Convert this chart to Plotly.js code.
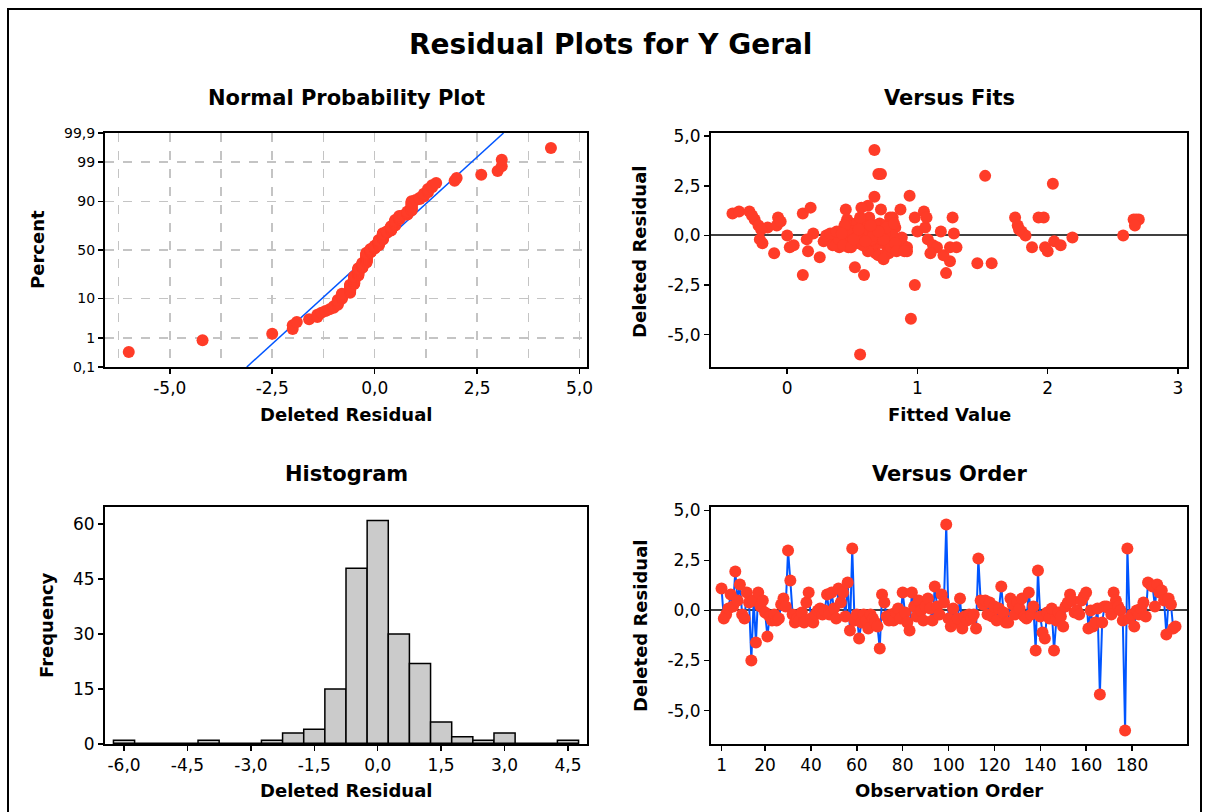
<!DOCTYPE html>
<html>
<head>
<meta charset="utf-8">
<script src="https://cdn.plot.ly/plotly-3.0.1.min.js"></script>
<style>html,body{margin:0;padding:0;background:#fff}#chart{width:1210px;height:812px}</style>
</head>
<body>
<div id="chart"></div>
<script>
// ---------------- DATA ----------------
// Deleted residuals, in observation order (1..199)
const residuals = [
 1.1,-0.4,-0.2,0.1,0.8,0.2,1.95,0.5,1.3,-0.2,
 -0.4,0.9,0.4,-2.5,0.5,-1.6,0.9,0.2,0.5,-0.1,
 -1.3,-0.3,-0.5,-0.2,-0.5,-0.4,0.3,0.6,0.2,3.0,
 1.5,-0.2,-0.6,-0.4,-0.5,-0.1,-0.6,0.4,0.9,-0.4,
 -0.6,-0.2,0.0,0.1,-0.2,0.0,0.8,-0.2,0.9,0.1,
 -0.4,1.1,0.4,0.9,-0.3,1.4,-1.0,3.1,-0.5,-0.2,
 -1.4,-0.6,-0.2,-0.5,-0.9,-0.2,-0.4,-0.6,-0.8,-1.9,
 0.8,0.4,-0.3,-0.5,-0.2,-0.5,-0.1,0.1,-0.4,0.9,
 -0.1,-0.6,-1.0,0.9,0.2,-0.3,0.5,0.0,-0.5,0.2,
 0.6,0.1,-0.5,1.2,0.2,-0.2,0.8,0.4,4.3,-0.4,
 -0.8,0.1,-0.6,-0.4,0.6,-0.9,-0.3,-0.5,-0.2,-0.4,
 -0.2,-0.9,2.6,0.5,0.3,0.5,-0.2,0.4,-0.3,0.2,
 -0.5,0.1,1.2,-0.1,-0.6,-0.6,0.6,0.3,-0.2,0.4,
 0.1,0.6,-0.3,-0.4,0.9,-0.2,0.2,-2.0,2.0,-0.3,
 -1.1,-1.4,-0.1,-0.4,0.1,-2.0,-0.5,-0.1,-0.3,-0.8,
 0.2,0.4,0.8,0.5,-0.1,0.0,-0.2,0.5,0.7,0.9,
 -0.9,0.0,-0.8,-0.6,0.1,-4.2,-0.6,0.2,0.2,0.1,
 -0.2,0.9,0.5,0.2,0.0,-0.5,-6.0,3.1,-0.4,-0.2,
 -0.8,0.0,-0.2,0.1,0.4,-0.3,1.4,1.3,1.2,0.2,
 1.3,0.9,1.0,0.5,-1.2,0.6,0.3,-0.9,-0.8
];
// Fitted values, same order
const fitted = [
 -0.42,-0.19,-0.21,0.20,-0.25,1.00,0.67,-0.22,0.72,1.08,
 0.48,-0.07,-0.15,0.98,-0.08,0.52,0.98,1.18,0.55,0.61,
 1.25,0.28,0.05,0.15,1.12,0.38,-0.20,0.58,1.80,1.52,
 0.62,0.43,0.02,0.36,0.66,0.71,0.47,1.06,0.79,0.53,
 0.40,0.64,0.00,1.28,0.57,0.30,0.46,0.69,0.81,0.39,
 0.74,0.12,0.51,0.63,0.82,0.18,1.20,0.70,0.77,0.45,
 1.46,1.15,0.68,0.35,0.68,0.73,0.60,1.25,0.16,1.22,
 2.70,0.44,0.59,0.78,0.50,0.86,0.41,0.65,0.70,1.27,
 0.55,1.30,0.70,1.75,0.62,0.54,1.77,1.83,0.66,0.75,
 0.49,0.33,0.89,-0.37,0.72,0.42,2.68,0.56,0.67,0.80,
 2.00,0.58,1.88,0.47,0.71,1.10,0.63,0.37,0.76,0.52,
 0.84,0.76,2.04,0.60,1.78,0.74,0.48,0.83,2.05,0.69,
 2.10,0.57,-0.29,2.19,1.98,0.92,0.53,0.66,0.40,0.78,
 0.61,0.45,0.85,0.67,1.93,0.73,0.50,0.12,0.94,0.64,
 0.25,1.57,0.56,0.79,0.70,0.59,0.43,0.88,0.62,0.62,
 0.46,0.77,2.66,0.68,0.54,0.81,0.72,0.44,-0.05,1.97,
 0.78,0.59,0.92,0.49,0.71,0.95,0.80,0.63,0.38,0.75,
 0.65,0.56,2.67,0.69,2.58,0.58,0.56,0.72,0.83,0.51,
 0.84,0.66,0.74,0.42,0.76,0.60,0.57,0.87,1.05,0.70,
 0.45,1.07,-0.27,0.64,0.74,0.82,0.55,-0.10,0.90
];
// Tick labels
const residTickVals = [5, 2.5, 0, -2.5, -5];
const residTickText = ["5,0", "2,5", "0,0", "-2,5", "-5,0"];
const npXTickVals = [-5, -2.5, 0, 2.5, 5];
const npXTickText = ["-5,0", "-2,5", "0,0", "2,5", "5,0"];
const npPercentVals = [0.1, 1, 10, 50, 90, 99, 99.9];
const npPercentText = ["0,1", "1", "10", "50", "90", "99", "99,9"];
const histXTickVals = [-6, -4.5, -3, -1.5, 0, 1.5, 3, 4.5];
const histXTickText = ["-6,0", "-4,5", "-3,0", "-1,5", "0,0", "1,5", "3,0", "4,5"];
const histYTickVals = [0, 15, 30, 45, 60];
const fitsXTickVals = [0, 1, 2, 3];
const orderXTickVals = [1, 20, 40, 60, 80, 100, 120, 140, 160, 180];

// ---------------- HELPERS ----------------
function invNorm(p){
 const a=[-3.969683028665376e+01,2.209460984245205e+02,-2.759285104469687e+02,1.383577518672690e+02,-3.066479806614716e+01,2.506628277459239e+00];
 const b=[-5.447609879822406e+01,1.615858368580409e+02,-1.556989798598866e+02,6.680131188771972e+01,-1.328068155288572e+01];
 const c=[-7.784894002430293e-03,-3.223964580411365e-01,-2.400758277161838e+00,-2.549732539343734e+00,4.374664141464968e+00,2.938163982698783e+00];
 const d=[7.784695709041462e-03,3.224671290700398e-01,2.445134137142996e+00,3.754408661907416e+00];
 const pl=0.02425, ph=1-pl; let q,r;
 if(p<pl){q=Math.sqrt(-2*Math.log(p));return (((((c[0]*q+c[1])*q+c[2])*q+c[3])*q+c[4])*q+c[5])/((((d[0]*q+d[1])*q+d[2])*q+d[3])*q+1);}
 if(p<=ph){q=p-0.5;r=q*q;return (((((a[0]*r+a[1])*r+a[2])*r+a[3])*r+a[4])*r+a[5])*q/(((((b[0]*r+b[1])*r+b[2])*r+b[3])*r+b[4])*r+1);}
 q=Math.sqrt(-2*Math.log(1-p));return -(((((c[0]*q+c[1])*q+c[2])*q+c[3])*q+c[4])*q+c[5])/((((d[0]*q+d[1])*q+d[2])*q+d[3])*q+1);
}
const n = residuals.length;
const sorted = residuals.slice().sort((a,b)=>a-b);
const npZ = sorted.map((v,i)=>invNorm((i+1-0.3)/(n+0.4)));
const mean = residuals.reduce((s,v)=>s+v,0)/n;
const sd = Math.sqrt(residuals.reduce((s,v)=>s+(v-mean)*(v-mean),0)/(n-1));
const zLo = invNorm(0.001), zHi = invNorm(0.999);
const order = residuals.map((v,i)=>i+1);

// ---------------- LAYOUT GEOMETRY ----------------
const W = 1210, H = 812;
const px = x => x / W;
const py = y => 1 - y / H;
const FONT = "DejaVu Sans, Verdana, sans-serif";
const RED = "#ff3c28", BLUE = "#0055ff";

const baseAxis = {
  showline: true, linecolor: "black", linewidth: 2, mirror: true,
  ticks: "outside", ticklen: 5, tickwidth: 1.5, tickcolor: "black",
  showgrid: false, zeroline: false, tickmode: "array",
  tickfont: {family: FONT, size: 17, color: "black"}
};
const GRID = "#c4c4c4";

const traces = [
  // Normal probability plot
  {x: [mean + sd*zLo, mean + sd*zHi], y: [zLo, zHi], xaxis: "x", yaxis: "y", mode: "lines",
   line: {color: BLUE, width: 1.5}, hoverinfo: "skip"},
  {x: sorted, y: npZ, xaxis: "x", yaxis: "y", mode: "markers",
   marker: {color: RED, size: 12}},
  // Versus fits
  {x: fitted, y: residuals, xaxis: "x2", yaxis: "y2", mode: "markers",
   marker: {color: RED, size: 12}},
  // Histogram
  {type: "histogram", x: residuals, xaxis: "x3", yaxis: "y3",
   xbins: {start: -6.25, end: 4.75, size: 0.5}, autobinx: false,
   marker: {color: "#cbcbcb", line: {color: "black", width: 1.5}}},
  // Versus order
  {x: order, y: residuals, xaxis: "x4", yaxis: "y4", mode: "lines+markers",
   line: {color: BLUE, width: 2}, marker: {color: RED, size: 12}}
];

const xL = [px(105), px(587)], xR = [px(711), px(1187)];
const yT = [py(367), py(133)], yB = [py(744), py(507)];

function ann(text, x, y, size, angle){
  return {text: "<b>" + text + "</b>", x: px(x), y: py(y), xref: "paper", yref: "paper",
          showarrow: false, xanchor: "center", yanchor: "middle", textangle: angle || 0,
          font: {family: FONT, size: size, color: "black"}};
}

const layout = {
  width: W, height: H, showlegend: false, separators: ",.",
  paper_bgcolor: "white", plot_bgcolor: "white",
  margin: {l: 0, r: 0, t: 0, b: 0, pad: 0},
  bargap: 0,
  xaxis: Object.assign({}, baseAxis, {domain: xL, anchor: "y", range: [-6.58, 5.18],
    tickvals: npXTickVals, ticktext: npXTickText,
    showgrid: true, gridcolor: GRID, gridwidth: 1.5, griddash: "dash",
    minor: {tickmode: "array", tickvals: [-6.25, -3.75, -1.25, 1.25, 3.75], showgrid: true,
            gridcolor: GRID, gridwidth: 1.5, griddash: "dash", ticks: ""}}),
  yaxis: Object.assign({}, baseAxis, {domain: yT, anchor: "x", range: [zLo, zHi],
    tickvals: npPercentVals.map(p => invNorm(p/100)), ticktext: npPercentText,
    tickfont: {family: FONT, size: 14, color: "black"},
    showgrid: true, gridcolor: GRID, gridwidth: 1.5, griddash: "dash"}),
  xaxis2: Object.assign({}, baseAxis, {domain: xR, anchor: "y2", range: [-0.585, 3.07],
    tickvals: fitsXTickVals}),
  yaxis2: Object.assign({}, baseAxis, {domain: yT, anchor: "x2", range: [-6.63, 5.16],
    tickvals: residTickVals, ticktext: residTickText,
    zeroline: true, zerolinecolor: "#404040", zerolinewidth: 2}),
  xaxis3: Object.assign({}, baseAxis, {domain: xL, anchor: "y3", range: [-6.45, 4.95],
    tickvals: histXTickVals, ticktext: histXTickText}),
  yaxis3: Object.assign({}, baseAxis, {domain: yB, anchor: "x3", range: [0, 64.7],
    tickvals: histYTickVals}),
  xaxis4: Object.assign({}, baseAxis, {domain: xR, anchor: "y4", range: [-3.6, 204],
    tickvals: orderXTickVals}),
  yaxis4: Object.assign({}, baseAxis, {domain: yB, anchor: "x4", range: [-6.67, 5.17],
    tickvals: residTickVals, ticktext: residTickText,
    zeroline: true, zerolinecolor: "#404040", zerolinewidth: 2}),
  annotations: [
    ann("Residual Plots for Y Geral", 610, 45, 28),
    ann("Normal Probability Plot", 346, 98, 21),
    ann("Versus Fits", 949, 98, 21),
    ann("Histogram", 346, 474, 21),
    ann("Versus Order", 949, 474, 21),
    ann("Deleted Residual", 346, 414, 18),
    ann("Fitted Value", 949, 414, 18),
    ann("Deleted Residual", 346, 790, 18),
    ann("Observation Order", 949, 790, 18),
    ann("Percent", 37, 250, 18, -90),
    ann("Deleted Residual", 640, 252, 18, -90),
    ann("Frequency", 46, 625, 18, -90),
    ann("Deleted Residual", 640, 626, 18, -90)
  ],
  shapes: [
    {type: "rect", xref: "paper", yref: "paper", x0: px(8), x1: px(1201), y0: -0.02, y1: py(9),
     line: {color: "black", width: 2}, layer: "below"},
    {type: "line", xref: "x3", yref: "y3", x0: -6.25, x1: 4.75, y0: 0, y1: 0,
     line: {color: "black", width: 3}, layer: "above"}
  ]
};

Plotly.newPlot("chart", traces, layout, {displayModeBar: false, staticPlot: true});
</script>
</body>
</html>
